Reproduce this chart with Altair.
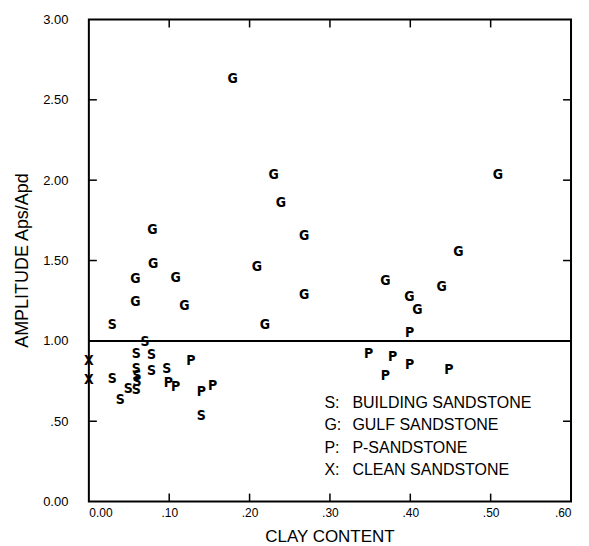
import altair as alt
import pandas as pd

# ---- data ----
s_x = [0.029, 0.070, 0.059, 0.078, 0.059, 0.078, 0.097, 0.029, 0.060, 0.060, 0.049, 0.059, 0.039, 0.140]
s_y = [1.10, 0.99, 0.919, 0.913, 0.824, 0.81, 0.824, 0.762, 0.78, 0.745, 0.70, 0.696, 0.634, 0.53]

g_x = [0.179, 0.230, 0.239, 0.079, 0.509, 0.268, 0.460, 0.268, 0.369, 0.399,
       0.409, 0.439, 0.080, 0.058, 0.108, 0.058, 0.119, 0.209, 0.219]
g_y = [2.63, 2.03, 1.86, 1.69, 2.035, 1.65, 1.555, 1.285, 1.373, 1.27,
       1.19, 1.337, 1.478, 1.383, 1.39, 1.244, 1.22, 1.458, 1.10]

p_x = [0.399, 0.348, 0.378, 0.399, 0.369, 0.448, 0.127, 0.099, 0.108, 0.140, 0.154]
p_y = [1.05, 0.92, 0.90, 0.85, 0.78, 0.82, 0.876, 0.735, 0.71, 0.68, 0.72]

x_x = [0.0, 0.0]
x_y = [0.877, 0.758]

ref_level = [1.00]

x_ticks = [0.0, 0.1, 0.2, 0.3, 0.4, 0.5, 0.6]
y_ticks = [0.0, 0.5, 1.0, 1.5, 2.0, 2.5, 3.0]

legend_keys = ["S:", "G:", "P:", "X:"]
legend_labels = ["BUILDING SANDSTONE", "GULF SANDSTONE", "P-SANDSTONE", "CLEAN SANDSTONE"]

# ---- tables ----
points = pd.concat([
    pd.DataFrame({"clay": s_x, "amp": s_y, "code": "S"}),
    pd.DataFrame({"clay": g_x, "amp": g_y, "code": "G"}),
    pd.DataFrame({"clay": p_x, "amp": p_y, "code": "P"}),
    pd.DataFrame({"clay": x_x, "amp": x_y, "code": "X"}),
], ignore_index=True)

W, H = 483, 483
FONT = "DejaVu Sans Condensed, Liberation Sans Narrow, Liberation Sans, sans-serif"
AFONT = "Liberation Sans, DejaVu Sans, sans-serif"
TICK = 8

xscale = alt.Scale(domain=[0, 0.6], nice=False, zero=False)
yscale = alt.Scale(domain=[0, 3.0], nice=False, zero=False)

lab_x = ("datum.value == 0 ? '0.00' : replace(format(datum.value, '.2f'), '0.', '.')")
lab_y = ("datum.value == 0 ? '0.00' : (datum.value < 1 ? replace(format(datum.value, '.2f'), '0.', '.') "
         ": format(datum.value, '.2f'))")

xaxis = alt.Axis(values=x_ticks, labelExpr=lab_x, tickSize=0, domain=False, grid=False,
                 labelFont=AFONT, labelFontSize=12, labelPadding=6, labelColor="black",
                 title="CLAY CONTENT", titleFont=AFONT, titleFontSize=17, titleFontWeight="normal",
                 titleColor="black", titleX=241, titleY=35, titleBaseline="middle", titleAlign="center")
yaxis = alt.Axis(values=y_ticks, labelExpr=lab_y, tickSize=0, domain=False, grid=False,
                 labelFont=AFONT, labelFontSize=13, labelPadding=21, labelColor="black",
                 title="AMPLITUDE Aps/Apd", titleFont=AFONT, titleFontSize=18, titleFontWeight="normal",
                 titleColor="black", titleX=-66, titleY=241, titleAngle=270,
                 titleBaseline="middle", titleAlign="center")

letters = alt.Chart(points).mark_text(
    font=FONT, fontSize=14, fontWeight="bold", align="center", baseline="middle", color="black"
).encode(
    x=alt.X("clay:Q", scale=xscale, axis=xaxis),
    y=alt.Y("amp:Q", scale=yscale, axis=yaxis),
    text="code:N",
)

ref = alt.Chart(pd.DataFrame({"amp": ref_level})).mark_rule(color="black", strokeWidth=2).encode(
    y=alt.Y("amp:Q", scale=yscale)
)

xt = pd.DataFrame({"clay": x_ticks[1:-1]})
yt = pd.DataFrame({"amp": y_ticks[1:-1]})
tick_bottom = alt.Chart(xt).mark_rule(color="black", strokeWidth=1.5).encode(
    x=alt.X("clay:Q", scale=xscale), y=alt.value(H), y2=alt.value(H - TICK))
tick_top = alt.Chart(xt).mark_rule(color="black", strokeWidth=1.5).encode(
    x=alt.X("clay:Q", scale=xscale), y=alt.value(0), y2=alt.value(TICK))
tick_left = alt.Chart(yt).mark_rule(color="black", strokeWidth=1.5).encode(
    y=alt.Y("amp:Q", scale=yscale), x=alt.value(0), x2=alt.value(TICK))
tick_right = alt.Chart(yt).mark_rule(color="black", strokeWidth=1.5).encode(
    y=alt.Y("amp:Q", scale=yscale), x=alt.value(W), x2=alt.value(W - TICK))

leg_df = pd.DataFrame({"keys": ["\n".join(legend_keys)], "labels": ["\n".join(legend_labels)]})
leg_keys = alt.Chart(leg_df).mark_text(
    font=AFONT, fontSize=16, align="left", baseline="middle", lineBreak="\n", lineHeight=22.5,
    color="black"
).encode(x=alt.value(236), y=alt.value(384), text="keys:N")
leg_labels = alt.Chart(leg_df).mark_text(
    font=AFONT, fontSize=16, align="left", baseline="middle", lineBreak="\n", lineHeight=22.5,
    color="black"
).encode(x=alt.value(264), y=alt.value(384), text="labels:N")

chart = alt.layer(
    ref, tick_bottom, tick_top, tick_left, tick_right, letters, leg_keys, leg_labels
).properties(
    width=W, height=H,
    autosize=alt.AutoSizeParams(type="none"),
    padding={"left": 81, "top": 11, "right": 10, "bottom": 44},
    background="white",
).configure_view(stroke="black", strokeWidth=2)

chart.save("out.html", embed_options={"renderer": "svg", "actions": False})
